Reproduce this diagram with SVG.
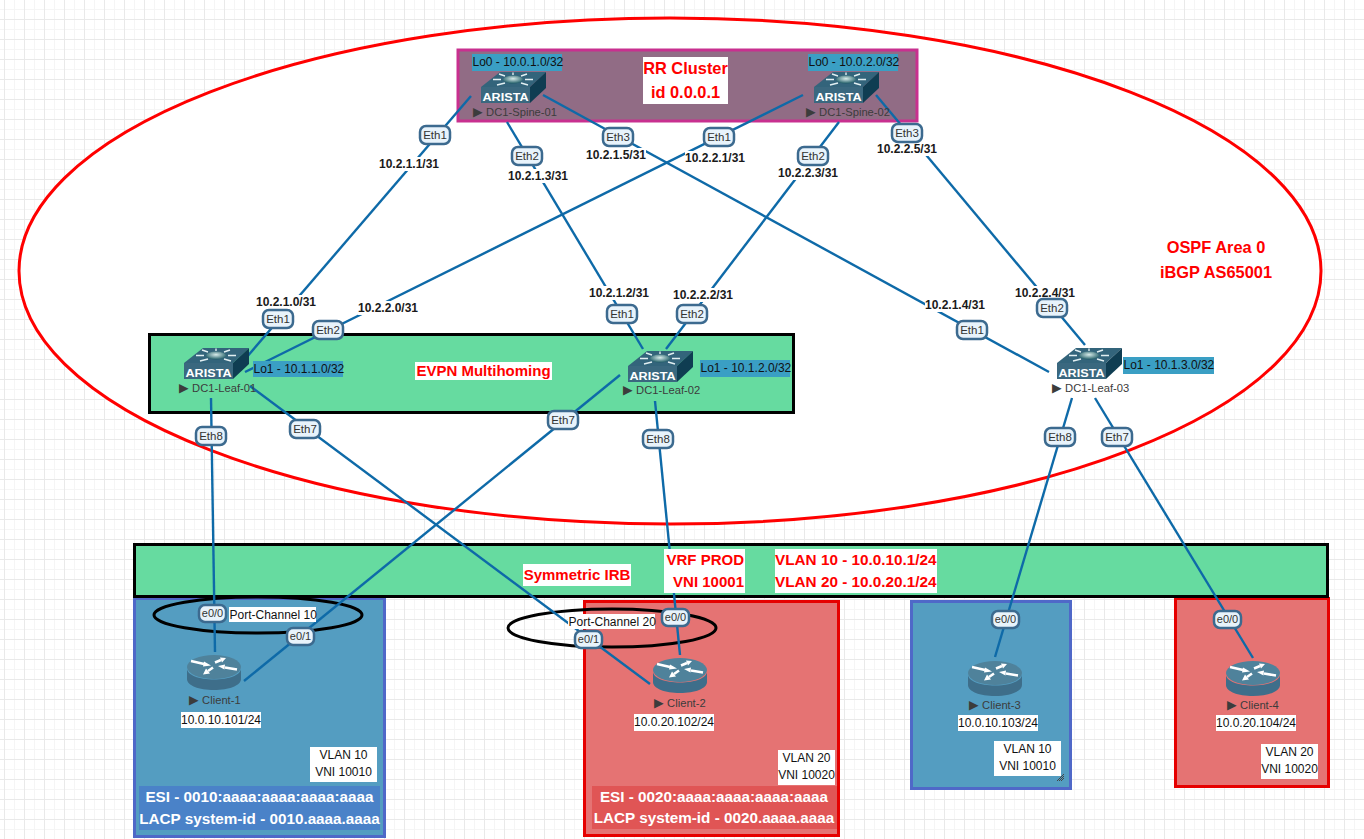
<svg xmlns="http://www.w3.org/2000/svg" width="1364" height="839" viewBox="0 0 1364 839">
<style>
text{font-family:"Liberation Sans",Arial,"DejaVu Sans",sans-serif;fill:#111}
.ln{fill:none;stroke:#0e6aa8;stroke-width:2.4}
.band{fill:#66dba0;stroke:#000;stroke-width:3}
.bb{fill:#549dc1;stroke:#4f68c8;stroke-width:3}
.rb{fill:#e57373;stroke:#e60000;stroke-width:3}
.pc{fill:none;stroke:#000;stroke-width:3}
.w{fill:#fff}
.lo{fill:#3a9fc4}
.t12{font-size:12px}
.ip{font-size:12px;font-weight:bold;text-anchor:middle;fill:#1a1a1a}
.p{fill:#e8f3fb;stroke:#3c6a8f;stroke-width:2.5}
.pt{font-size:11.5px;text-anchor:middle;fill:#333}
.pe{font-size:11px;text-anchor:middle;fill:#333}
.nm{font-size:11.200px;fill:#3c3c3c}
.tri{font-size:12.500px;font-family:"DejaVu Sans",sans-serif;fill:#3c3c3c}
.rt{font-size:16.400px;font-weight:bold;fill:#f00}
.rs{font-size:15px;font-weight:bold;fill:#f00}
.vl{font-size:15.300px;font-weight:bold;fill:#f00}
.m{text-anchor:middle}
.e{text-anchor:end}
.es{font-size:15.250px;font-weight:bold;fill:#fff;text-anchor:middle}
.sp{stroke:#e2eff2;stroke-width:1.4;fill:none}
.ar{stroke:#fff;stroke-width:2.6;fill:none}
</style>
<defs>
<pattern id="grid" width="20" height="20" patternUnits="userSpaceOnUse">
<rect width="20" height="20" fill="#fff"/>
<path d="M14.5 0V20M0 9.5H20" stroke="#f5f5f5" stroke-width="1" fill="none"/>
<path d="M4.5 0V20M0 19.5H20" stroke="#e9e9e9" stroke-width="1" fill="none"/>
</pattern>
<radialGradient id="hub" cx="0.5" cy="0.4" r="0.6"><stop offset="0" stop-color="#d8ecea"/><stop offset="1" stop-color="#1f5c66"/></radialGradient>
<g id="sw">
<polygon points="0,15 19,0 65,0 49,15" fill="#33647b"/>
<polygon points="0,15 49,15 49,31 0,31" fill="#3a687f"/>
<polygon points="49,15 65,0 65,16 49,31" fill="#0f3d52"/>
<ellipse cx="32" cy="7.5" rx="10" ry="4" fill="url(#hub)"/>
<path class="sp" d="M20 7.5H12M44 7.5H52M24 4L18 2M40 4L46 2M24 11L16 13M40 11L47 13M32 3V0.5"/>
<text x="24.500" y="28.500" text-anchor="middle" textLength="46" lengthAdjust="spacingAndGlyphs" style="font-size:11.500px;font-weight:bold;fill:#fff;font-family:'Liberation Sans',sans-serif">ARISTA</text>
</g>
<g id="rt">
<path d="M0 13.5V24C0 30.5 12 35 27 35S54 30.5 54 24V13.5C54 20 42 24.5 27 24.5S0 20 0 13.5Z" fill="#3e6e8a"/>
<ellipse cx="27" cy="12" rx="27" ry="12" fill="#4f829b"/>
<path class="ar" d="M4 6L17 9M28 7.500L34 5M38 12.500L50 14.500M21 16L26 12.500"/>
<path fill="#fff" d="M24 10.500L17 6.500L16 11.500ZM39 3L33 2.500L35 7.500ZM31 11L38 9.500L37.500 14.500ZM16 19.500L19 13.500L23 18.500Z"/>
</g>
</defs>

<rect id="background" width="1364" height="839" fill="url(#grid)"/>

<g id="ospf-area">
<ellipse cx="670" cy="271" rx="651" ry="253" fill="#fff" stroke="#f00" stroke-width="3"/>
<text class="rt m" x="1216" y="253">OSPF Area 0</text>
<text class="rt m" x="1216" y="278">iBGP AS65001</text>
</g>

<g id="rr-cluster">
<rect x="458" y="50" width="459" height="71" fill="#916c85" stroke="#c8308f" stroke-width="3"/>
<rect class="w" x="643" y="57" width="85" height="47"/>
<text class="rt m" x="685.500" y="74">RR Cluster</text>
<text class="rt m" x="685.500" y="98">id 0.0.0.1</text>
</g>

<g id="evpn-multihoming">
<rect class="band" x="149.500" y="334.500" width="644" height="78"/>
<rect class="w" x="415" y="362" width="137" height="18"/>
<text class="rs m" x="483.500" y="376">EVPN Multihoming</text>
</g>

<g id="client-1-area"><rect class="bb" x="134.500" y="598.500" width="250" height="238"/></g>
<g id="client-2-area"><rect class="rb" x="584.500" y="601.500" width="254" height="234"/></g>
<g id="client-3-area"><rect class="bb" x="911.500" y="601.500" width="159" height="187"/>
<path d="M1057 781L1064 774M1059 781L1064 776M1061 781L1064 778" stroke="#444" stroke-width="1" fill="none"/></g>
<g id="client-4-area"><rect class="rb" x="1175.500" y="598.500" width="153" height="188"/></g>

<g id="symmetric-irb">
<rect class="band" x="134.500" y="544.500" width="1193" height="52"/>
</g>

<g id="port-channels">
<ellipse class="pc" cx="258" cy="615" rx="104" ry="18"/>
<ellipse class="pc" cx="612" cy="628" rx="104" ry="19"/>
</g>

<g id="connectors">
<line class="ln" x1="471" y1="96" x2="246" y2="358"/>
<line class="ln" x1="507" y1="122" x2="643" y2="349"/>
<line class="ln" x1="543" y1="95" x2="1049" y2="372"/>
<line class="ln" x1="803" y1="95" x2="245" y2="372"/>
<line class="ln" x1="839" y1="122" x2="666" y2="349"/>
<line class="ln" x1="876" y1="95" x2="1085" y2="345"/>
<line class="ln" x1="211" y1="398" x2="215" y2="652"/>
<line class="ln" x1="250" y1="386" x2="650" y2="684"/>
<line class="ln" x1="620" y1="375" x2="244" y2="681"/>
<line class="ln" x1="655" y1="401" x2="680" y2="655"/>
<line class="ln" x1="1072" y1="398" x2="995" y2="657"/>
<line class="ln" x1="1095" y1="398" x2="1253" y2="658"/>
</g>

<g id="irb-labels">
<rect class="w" x="523" y="564" width="108" height="22"/>
<text class="rs m" x="577" y="580">Symmetric IRB</text>
<rect class="w" x="664" y="549" width="81" height="44"/>
<text class="rs e" x="744" y="565">VRF PROD</text>
<text class="rs e" x="744" y="587">VNI 10001</text>
<rect class="w" x="775" y="549" width="162" height="44"/>
<text class="vl" x="775" y="565">VLAN 10 - 10.0.10.1/24</text>
<text class="vl" x="775" y="587">VLAN 20 - 10.0.20.1/24</text>
</g>

<g id="pc-labels">
<rect class="w" x="229" y="607" width="87" height="15"/>
<text class="t12" x="229.500" y="618.500">Port-Channel 10</text>
<rect class="w" x="568" y="614" width="87" height="15"/>
<text class="t12" x="568.500" y="625.500">Port-Channel 20</text>
</g>

<g id="ip-labels">
<rect class="w" x="379" y="157" width="60" height="14"/><text class="ip" x="409" y="168">10.2.1.1/31</text>
<rect class="w" x="508" y="169" width="60" height="14"/><text class="ip" x="538" y="180">10.2.1.3/31</text>
<rect class="w" x="586" y="148" width="60" height="14"/><text class="ip" x="616" y="159">10.2.1.5/31</text>
<rect class="w" x="685" y="151" width="60" height="14"/><text class="ip" x="715" y="162">10.2.2.1/31</text>
<rect class="w" x="778" y="166" width="60" height="14"/><text class="ip" x="808" y="177">10.2.2.3/31</text>
<rect class="w" x="877" y="142" width="60" height="14"/><text class="ip" x="907" y="153">10.2.2.5/31</text>
<rect class="w" x="256" y="295" width="60" height="14"/><text class="ip" x="286" y="306">10.2.1.0/31</text>
<rect class="w" x="358" y="301" width="60" height="14"/><text class="ip" x="388" y="312">10.2.2.0/31</text>
<rect class="w" x="589" y="286" width="60" height="14"/><text class="ip" x="619" y="297">10.2.1.2/31</text>
<rect class="w" x="673" y="288" width="60" height="14"/><text class="ip" x="703" y="299">10.2.2.2/31</text>
<rect class="w" x="925" y="298" width="60" height="14"/><text class="ip" x="955" y="309">10.2.1.4/31</text>
<rect class="w" x="1015" y="286" width="60" height="14"/><text class="ip" x="1045" y="297">10.2.2.4/31</text>
</g>

<g id="interface-labels">
<rect class="p" x="420" y="126" width="30" height="18" rx="6"/><text class="pt" x="435" y="139">Eth1</text>
<rect class="p" x="512" y="147" width="30" height="18" rx="6"/><text class="pt" x="527" y="160">Eth2</text>
<rect class="p" x="603" y="128" width="30" height="18" rx="6"/><text class="pt" x="618" y="141">Eth3</text>
<rect class="p" x="704" y="128" width="30" height="18" rx="6"/><text class="pt" x="719" y="141">Eth1</text>
<rect class="p" x="798" y="147" width="30" height="18" rx="6"/><text class="pt" x="813" y="160">Eth2</text>
<rect class="p" x="892" y="124" width="30" height="18" rx="6"/><text class="pt" x="907" y="137">Eth3</text>
<rect class="p" x="263" y="310" width="30" height="18" rx="6"/><text class="pt" x="278" y="323">Eth1</text>
<rect class="p" x="313" y="321" width="30" height="18" rx="6"/><text class="pt" x="328" y="334">Eth2</text>
<rect class="p" x="196" y="427" width="30" height="18" rx="6"/><text class="pt" x="211" y="440">Eth8</text>
<rect class="p" x="290" y="420" width="30" height="18" rx="6"/><text class="pt" x="305" y="433">Eth7</text>
<rect class="p" x="607" y="305" width="30" height="18" rx="6"/><text class="pt" x="622" y="318">Eth1</text>
<rect class="p" x="677" y="305" width="30" height="18" rx="6"/><text class="pt" x="692" y="318">Eth2</text>
<rect class="p" x="643" y="430" width="30" height="18" rx="6"/><text class="pt" x="658" y="443">Eth8</text>
<rect class="p" x="548" y="411" width="30" height="18" rx="6"/><text class="pt" x="563" y="424">Eth7</text>
<rect class="p" x="957" y="321" width="30" height="18" rx="6"/><text class="pt" x="972" y="334">Eth1</text>
<rect class="p" x="1037" y="299" width="30" height="18" rx="6"/><text class="pt" x="1052" y="312">Eth2</text>
<rect class="p" x="1045" y="428" width="30" height="18" rx="6"/><text class="pt" x="1060" y="441">Eth8</text>
<rect class="p" x="1102" y="428" width="30" height="18" rx="6"/><text class="pt" x="1117" y="441">Eth7</text>
<rect class="p" x="199" y="605" width="27" height="17" rx="6"/><text class="pe" x="212.500" y="617">e0/0</text>
<rect class="p" x="287" y="628" width="27" height="17" rx="6"/><text class="pe" x="300.500" y="640">e0/1</text>
<rect class="p" x="575" y="631" width="27" height="17" rx="6"/><text class="pe" x="588.500" y="643">e0/1</text>
<rect class="p" x="662" y="609" width="27" height="17" rx="6"/><text class="pe" x="675.500" y="621">e0/0</text>
<rect class="p" x="992" y="611" width="27" height="17" rx="6"/><text class="pe" x="1005.500" y="623">e0/0</text>
<rect class="p" x="1214" y="611" width="27" height="17" rx="6"/><text class="pe" x="1227.500" y="623">e0/0</text>
</g>

<g id="DC1-Spine-01">
<rect class="lo" x="472" y="54" width="90" height="17"/><text class="t12" x="472.500" y="66">Lo0 - 10.0.1.0/32</text>
<use href="#sw" x="481" y="72"/>
<text class="nm" y="116"><tspan class="tri" x="473">▶</tspan><tspan x="483"> DC1-Spine-01</tspan></text>
</g>
<g id="DC1-Spine-02">
<rect class="lo" x="808" y="54" width="90" height="17"/><text class="t12" x="808.500" y="66">Lo0 - 10.0.2.0/32</text>
<use href="#sw" x="814" y="72"/>
<text class="nm" y="116"><tspan class="tri" x="806">▶</tspan><tspan x="816"> DC1-Spine-02</tspan></text>
</g>
<g id="DC1-Leaf-01">
<rect class="lo" x="253" y="361" width="90" height="16"/><text class="t12" x="253.500" y="373">Lo1 - 10.1.1.0/32</text>
<use href="#sw" x="184" y="348"/>
<text class="nm" y="392"><tspan class="tri" x="179">▶</tspan><tspan x="189"> DC1-Leaf-01</tspan></text>
</g>
<g id="DC1-Leaf-02">
<rect class="lo" x="700" y="360" width="90" height="17"/><text class="t12" x="700.500" y="372">Lo1 - 10.1.2.0/32</text>
<use href="#sw" x="628" y="351"/>
<text class="nm" y="394"><tspan class="tri" x="623">▶</tspan><tspan x="633"> DC1-Leaf-02</tspan></text>
</g>
<g id="DC1-Leaf-03">
<rect class="lo" x="1123" y="357" width="91" height="17"/><text class="t12" x="1123.500" y="369">Lo1 - 10.1.3.0/32</text>
<use href="#sw" x="1057" y="348"/>
<text class="nm" y="392"><tspan class="tri" x="1052">▶</tspan><tspan x="1062"> DC1-Leaf-03</tspan></text>
</g>

<g id="Client-1">
<use href="#rt" x="187" y="655"/>
<text class="nm" y="704"><tspan class="tri" x="189">▶</tspan><tspan x="199"> Client-1</tspan></text>
<rect class="w" x="181" y="712" width="80" height="16"/><text class="t12 m" x="221" y="724">10.0.10.101/24</text>
<rect class="w" x="310" y="747" width="67" height="35"/>
<text class="t12 m" x="343.500" y="759">VLAN 10</text><text class="t12 m" x="343.500" y="776">VNI 10010</text>
<rect x="139" y="786" width="241" height="44" fill="#4a82c8"/>
<text class="es" x="259.500" y="802">ESI - 0010:aaaa:aaaa:aaaa:aaaa</text>
<text class="es" x="259.500" y="824">LACP system-id - 0010.aaaa.aaaa</text>
</g>
<g id="Client-2">
<use href="#rt" x="653" y="658"/>
<text class="nm" y="707"><tspan class="tri" x="654">▶</tspan><tspan x="664"> Client-2</tspan></text>
<rect class="w" x="634" y="714" width="80" height="17"/><text class="t12 m" x="674" y="726">10.0.20.102/24</text>
<rect class="w" x="778" y="750" width="57" height="35"/>
<text class="t12 m" x="806.500" y="762">VLAN 20</text><text class="t12 m" x="806.500" y="779">VNI 10020</text>
<rect x="592" y="786" width="245" height="43" fill="#e05555"/>
<text class="es" x="714" y="802">ESI - 0020:aaaa:aaaa:aaaa:aaaa</text>
<text class="es" x="714" y="823">LACP system-id - 0020.aaaa.aaaa</text>
</g>
<g id="Client-3">
<use href="#rt" x="968" y="661"/>
<text class="nm" y="709"><tspan class="tri" x="969">▶</tspan><tspan x="979"> Client-3</tspan></text>
<rect class="w" x="958" y="715" width="80" height="16"/><text class="t12 m" x="998" y="727">10.0.10.103/24</text>
<rect class="w" x="994" y="741" width="67" height="35"/>
<text class="t12 m" x="1027.500" y="753">VLAN 10</text><text class="t12 m" x="1027.500" y="770">VNI 10010</text>
</g>
<g id="Client-4">
<use href="#rt" x="1226" y="661"/>
<text class="nm" y="709"><tspan class="tri" x="1227">▶</tspan><tspan x="1237"> Client-4</tspan></text>
<rect class="w" x="1216" y="715" width="80" height="16"/><text class="t12 m" x="1256" y="727">10.0.20.104/24</text>
<rect class="w" x="1261" y="744" width="57" height="35"/>
<text class="t12 m" x="1289.500" y="756">VLAN 20</text><text class="t12 m" x="1289.500" y="773">VNI 10020</text>
</g>
</svg>
